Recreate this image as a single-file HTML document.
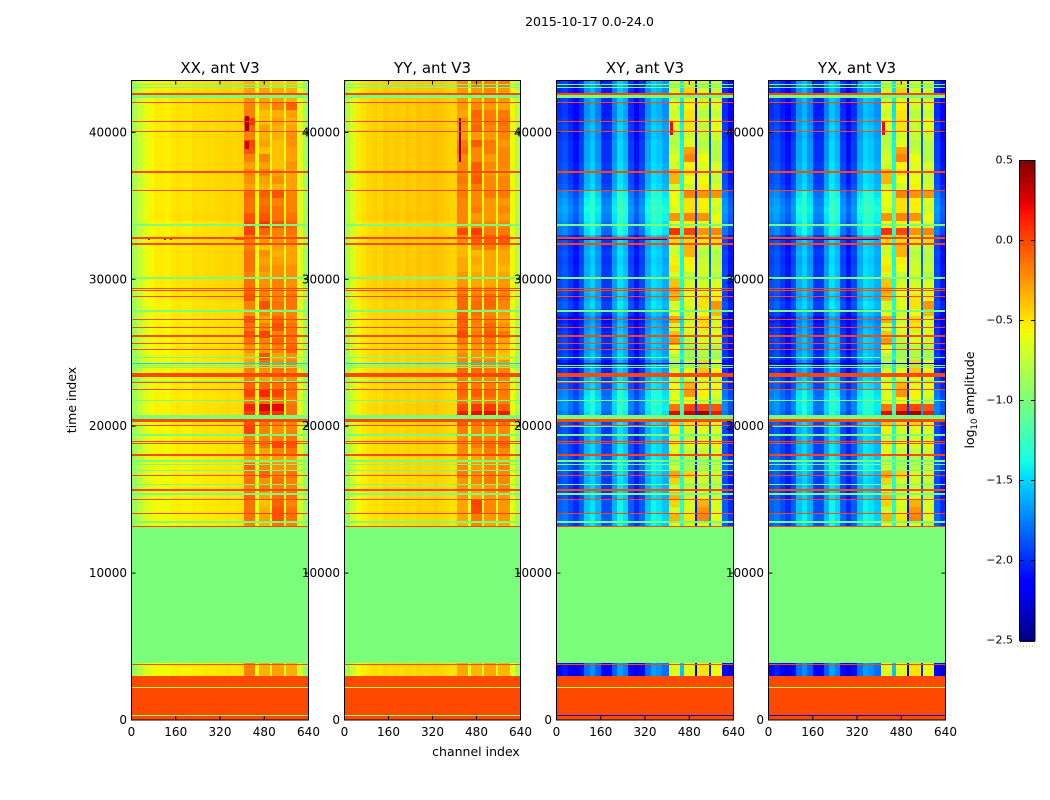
<!DOCTYPE html>
<html lang="en">
<head>
<meta charset="utf-8">
<title>2015-10-17 0.0-24.0</title>
<style>
html,body{margin:0;padding:0;background:#fff;width:1050px;height:800px;overflow:hidden}
svg{display:block;font-family:"DejaVu Sans","Liberation Sans",sans-serif;fill:#000}
</style>
</head>
<body>
<svg id="figure" xmlns="http://www.w3.org/2000/svg" width="1050" height="800" viewBox="0 0 1050 800">
  <rect width="1050" height="800" fill="#fff"/>
  <text x="589.5" y="26" font-size="12.5" text-anchor="middle">2015-10-17 0.0-24.0</text>
  <text x="220" y="73" font-size="15" text-anchor="middle">XX, ant V3</text>
  <text x="432.5" y="73" font-size="15" text-anchor="middle">YY, ant V3</text>
  <text x="645" y="73" font-size="15" text-anchor="middle">XY, ant V3</text>
  <text x="857" y="73" font-size="15" text-anchor="middle">YX, ant V3</text>
  <text font-size="12.5" text-anchor="middle" transform="translate(76,400) rotate(-90)">time index</text>
  <text x="476" y="756" font-size="12.5" text-anchor="middle">channel index</text>
  <text font-size="12.5" text-anchor="middle" transform="translate(974,400) rotate(-90)">log<tspan font-size="8.5" dy="3">10</tspan><tspan dy="-3"> amplitude</tspan></text>
  <g id="panels"></g>
  <g id="colorbar"></g>
</svg>
<script>
// ---- value range of the colour scale (log10 amplitude) ----
const colorMin = -2.5;
const colorMax = 0.5;

// ---- axes ----
const xTicks = [0, 160, 320, 480, 640];
const yTicks = [0, 10000, 20000, 30000, 40000];
const colorTicks = [0.5, 0, -0.5, -1, -1.5, -2, -2.5];
const colorTickLabels = ["0.5", "0.0", "\u22120.5", "\u22121.0", "\u22121.5", "\u22122.0", "\u22122.5"];
const channelMax = 640;
const timeMax = 43530;

// ---- column bands (channels) ----
const leftChannelEdges = [0,20,40,60,80,100,120,140,160,180,200,220,240,260,280,300,320,340,360,380,408];
const blockChannels = [[408,448],[460,500],[508,550],[559,600]];
const gapChannels = [[448,460],[500,508],[550,559]];
const rightChannels = [[600,620],[620,640]];

// ---- row bands: lower time edge of each row ----
const rowStarts = [43000,42500,42000,41500,41000,40500,40000,39500,39000,38500,38000,37500,37000,36500,36000,35500,35000,34500,34000,33500,33000,32500,32000,31500,31000,30500,30000,29500,29000,28500,28000,27500,27000,26500,26000,25500,25000,24500,24000,23500,23000,22500,22000,21500,21000,20500,20000,19500,19000,18500,18000,17500,17000,16500,16000,15500,15000,14500,14000,13500,13000,3000];

// ---- channel profiles (log10 amplitude) ----
const xxProfile = [-.85,-.72,-.62,-.56,-.52,-.52,-.54,-.5,-.48,-.5,-.5,-.47,-.48,-.46,-.47,-.46,-.45,-.44,-.46,-.44];
const yyProfile = [-.82,-.66,-.52,-.48,-.45,-.43,-.45,-.41,-.43,-.41,-.43,-.4,-.42,-.39,-.41,-.4,-.38,-.4,-.42,-.44];
const xyProfile = [-1.85,-1.8,-1.9,-2,-1.85,-1.55,-1.45,-1.6,-1.9,-1.9,-1.6,-1.4,-1.5,-1.85,-2,-1.85,-1.55,-1.4,-1.45,-1.55];
const yxProfile = [-1.85,-1.8,-1.9,-2,-1.85,-1.55,-1.45,-1.6,-1.9,-1.9,-1.6,-1.4,-1.5,-1.85,-2,-1.85,-1.55,-1.4,-1.45,-1.55];
const xxGaps = [-.56,-.56,-.58];
const yyGaps = [-.58,-.58,-.62];
const xyGaps = [-1.3,-2.1,-1.75];
const yxGaps = [-1.3,-2.1,-1.75];
const xxRight = [-.64,-.85];
const yyRight = [-.56,-.8];
const xyRight = [-1.85,-2];
const yxRight = [-1.85,-2];

// ---- constant level adjustment of the RFI blocks in each panel ----
const xxBlockLevel = -.08;
const yyBlockLevel = -.1;
const xyBlockLevel = .06;

// ---- per-row gain applied to the quiet channels ----
const parallelGain = [0,0,0,0,0,0,0,0,0,0,0,0,0,0,0,0,0,0,.01,-.03,-.02,0,0,0,0,0,0,0,0,0,-.02,-.02,-.03,-.03,-.03,-.03,-.03,-.03,-.04,-.04,-.04,-.03,-.03,-.03,-.02,-.02,-.03,-.03,-.04,-.04,-.04,-.05,-.05,-.05,-.05,-.05,-.05,-.05,-.05,-.05,-.05,-.05];
const crossGain = [-.12,-.15,-.12,-.15,-.15,-.12,-.09,-.12,-.09,-.09,-.09,-.06,-.06,-.06,-.03,.1,.15,.18,.15,.1,.08,-.06,-.09,-.06,-.09,-.06,-.06,-.06,-.06,-.09,-.03,-.12,-.2,-.15,-.12,-.09,-.12,-.09,-.2,-.12,-.06,-.03,.08,.12,.12,.08,-.03,-.06,-.06,-.03,-.03,0,.04,-.03,-.06,-.06,-.06,0,0,.04,0,-.25];

// ---- RFI block values, one row of four blocks per time row ----
const xxBlocks = [
[-.25,-.3,-.35,-.3],[-.2,-.2,-.25,-.25],[-.15,-.2,-.2,-.25],[-.1,-.2,-.1,0],[-.1,-.3,-.25,-.2],[.15,-.3,-.2,-.25],[0,-.2,-.25,-.2],[-.1,-.25,-.25,-.15],[.1,-.2,-.3,-.15],[.05,-.3,-.3,-.2],
[-.1,-.1,-.3,-.2],[-.2,-.2,-.3,-.15],[-.1,-.1,-.2,-.2],[-.15,-.2,-.15,-.2],[-.2,-.25,-.25,-.2],[0,.02,.05,-.1],[-.05,-.05,-.1,-.1],[-.05,0,-.05,-.1],[.05,.05,-.05,-.05],[.1,.15,.05,0],
[.1,0,-.1,-.05],[-.05,-.15,-.15,-.1],[-.1,-.3,-.2,-.2],[-.05,-.15,-.25,-.2],[-.05,-.2,-.2,-.2],[-.05,-.15,-.15,-.15],[-.1,-.2,-.15,-.15],[-.05,-.15,-.1,-.15],[0,-.1,-.1,-.1],[.05,-.1,-.1,-.05],
[-.1,.05,-.05,-.05],[-.15,-.1,-.1,-.1],[.05,-.2,0,-.1],[-.05,-.1,.05,-.05],[.05,.1,-.1,-.05],[-.05,-.1,0,-.05],[-.15,-.15,-.1,0],[-.25,.05,-.2,-.15],[-.2,-.05,-.15,-.1],[-.1,-.15,-.05,-.1],
[-.1,-.2,-.15,-.15],[0,0,-.05,-.05],[.1,.2,.1,-.05],[-.05,-.05,-.05,-.1],[.2,.35,.3,-.05],[.1,.2,.15,-.05],[.05,-.05,-.1,-.1],[.1,-.1,-.15,-.1],[-.1,-.1,-.1,-.05],[-.05,-.05,.1,.05],
[-.1,-.2,-.1,-.05],[-.2,-.25,-.2,-.2],[0,-.1,-.15,-.15],[-.05,0,-.1,-.05],[-.05,-.15,-.05,-.1],[-.1,-.1,-.1,-.1],[0,-.2,-.05,-.05],[-.05,-.3,0,-.1],[-.05,-.25,.05,-.05],[-.05,-.2,.05,-.05],[-.1,-.25,-.05,-.1],
[-.1,-.25,-.2,-.25]];
const yyBlocks = [
[-.1,-.05,-.05,-.05],[-.15,-.15,-.1,-.15],[-.15,-.15,-.1,-.15],[-.15,-.1,-.15,-.2],[-.2,.02,-.05,-.05],[-.1,-.02,-.05,-.02],[-.15,.02,-.1,-.05],[-.15,-.15,-.15,-.1],[-.05,.05,-.05,-.15],[0,-.1,-.05,-.1],
[-.1,-.1,-.15,-.1],[-.1,.05,-.1,-.1],[-.1,.02,-.15,-.15],[-.05,.05,-.1,-.1],[-.1,-.05,-.1,-.1],[-.05,-.1,-.05,-.05],[-.1,-.1,-.15,-.15],[-.1,-.05,-.15,-.1],[-.1,-.15,-.15,-.15],[-.1,-.1,-.1,-.1],
[.1,.15,-.05,-.05],[-.1,.05,.05,.05],[-.25,-.1,-.05,-.15],[-.25,-.25,-.2,-.2],[-.2,-.2,-.2,-.2],[-.2,-.25,-.2,-.25],[-.15,-.2,-.2,-.2],[-.15,-.2,-.2,-.15],[-.05,-.1,-.1,-.1],[0,-.05,0,-.05],
[0,0,.02,-.1],[.02,-.02,-.1,-.15],[.05,-.05,-.05,-.2],[.02,-.1,0,-.15],[.1,-.05,.05,-.05],[-.05,-.1,-.05,-.2],[-.15,-.15,-.1,-.25],[-.1,-.15,-.15,-.3],[-.1,-.05,-.1,-.15],[0,0,-.05,-.1],
[-.1,-.1,-.1,-.1],[0,-.05,-.05,-.1],[.02,.05,.02,-.05],[-.05,-.05,-.05,-.1],[.1,.15,.15,.05],[.25,.3,.3,.25],[.05,0,0,0],[-.05,-.1,-.1,-.1],[-.1,-.05,-.1,-.05],[-.1,-.05,0,0],
[-.1,-.15,-.05,-.1],[-.2,-.2,-.15,-.2],[-.1,-.15,-.1,-.1],[-.05,-.1,-.05,-.1],[-.15,-.1,-.05,-.1],[-.15,-.2,-.15,-.1],[-.15,-.2,-.15,-.15],[-.2,.12,-.1,-.15],[-.2,.1,-.1,-.15],[-.2,-.05,-.15,-.15],[-.25,-.1,-.2,-.2],
[-.2,-.25,-.2,-.25]];
const xyBlocks = [
[-.8,-.55,-.8,-.8],[-.75,-.5,-.75,-.8],[-.8,-.7,-.75,-.75],[-.7,-.6,-.75,-.7],[-.75,-.55,-.85,-.8],[-.6,-.55,-.75,-.65],[-.7,-.55,-.8,-.65],[-.85,-.75,-.8,-.75],[-.85,-.7,-.85,-.85],[-.8,-.35,-.8,-.85],
[-.7,-.25,-.65,-.85],[-.75,-.6,-.7,-.7],[-.4,-.55,-.7,-.8],[-.4,-.65,-.65,-.8],[-.75,-.75,-.6,-.7],[-.65,-.25,-.3,-.3],[-.65,-.55,-.6,-.7],[-.7,-.55,-.6,-.75],[-.3,-.25,-.3,-.65],[-.65,-.6,-.7,-.7],
[.02,-.05,-.3,-.25],[-.5,-.5,-.55,-.5],[-.75,-.4,-.8,-.8],[-.75,-.4,-.85,-.85],[-.6,-.6,-.8,-.85],[-.55,-.65,-.75,-.8],[-.7,-.8,-.75,-.85],[-.45,-.75,-.75,-.7],[-.35,-.7,-.7,-.7],[-.4,-.7,-.55,-.6],
[-.75,-.7,-.55,-.3],[-.65,-.75,-.65,-.4],[-.35,-.8,-.5,-.75],[-.75,-.7,-.55,-.75],[-.45,-.75,-.75,-.7],[-.3,-.85,-.7,-.75],[-.65,-.95,-.85,-.9],[-.8,-.9,-.85,-.9],[-.85,-.8,-.5,-.65],[-.75,-.7,-.45,-.6],
[-.7,-.75,-.6,-.7],[-.65,-.4,-.7,-.65],[-.7,-.3,-.6,-.7],[-.65,-.6,-.7,-.8],[-.2,-.05,-.05,-.1],[.15,.25,.35,.1],[-.45,-.55,-.5,-.6],[-.6,-.75,-.7,-.7],[-.8,-.85,-.75,-.75],[-.6,-.7,-.7,-.6],
[-.7,-.8,-.8,-.75],[-.85,-.9,-.9,-.8],[-.75,-.9,-.85,-.8],[-.35,-.5,-.75,-.75],[-.5,-.75,-.75,-.8],[-.75,-.85,-.8,-.85],[-.4,-.8,-.7,-.8],[-.5,-.7,-.4,-.7],[-.75,-.75,-.3,-.7],[-.4,-.55,-.25,-.65],[-.6,-.7,-.7,-.8],
[-.7,-.7,-.55,-.65]];

// ---- flagged time ranges, drawn across the whole band: [centre, width, value] ----
const redFlagRows = [[42610,140,0],[42020,80,0],[40720,80,0],[40040,80,0],[37300,150,0],[36030,80,0],[32810,80,0],[32400,150,0],[29370,80,0],[29220,80,0],[28800,80,0],[27260,80,0],[26720,80,0],[26120,150,0],[25620,80,0],[25220,80,0],[23480,300,0],[22950,80,0],[22500,80,0],[20360,190,0],[20020,80,0],[18950,80,0],[18810,80,0],[18050,80,0],[17980,80,0],[16640,80,0],[15650,150,0],[15010,80,0],[14060,80,0],[13170,80,0],[3770,80,0]];
const greenFlagRows = [[43270,80,-1],[43080,80,-1],[42440,210,-1],[33700,150,-1],[30070,150,-1],[27830,150,-1],[24650,80,-1],[24120,80,-1],[23980,80,-1],[23040,80,-1],[21750,80,-1],[20630,230,-1],[19410,150,-1],[17640,150,-1],[17390,80,-1],[16980,80,-1],[16010,80,-1],[15380,150,-1],[13470,150,-1]];
const blockFlagRows = [[8500,9300,-1],[1500,3000,0]];
const lowLineRows = [[2220,70,-.85]];
const parallelThinRows = [[320,70,-1],[24280,70,-1.5]];
const crossThinRows = [[320,70,-2.3],[24280,70,-2.3]];

// ---- isolated features: [channelStart, channelEnd, timeStart, timeEnd, value] ----
const xxSpots = [[412,424,40100,41100,.42],[412,424,38900,39400,.3],[60,66,32700,32760,.4],[116,126,32700,32760,.4],[140,146,32700,32760,.3],[370,405,32700,32760,-.05],[116,120,3880,3950,-.05]];
const yySpots = [[418,424,38000,41000,.5],[200,240,40700,40760,-.1],[120,150,20000,20060,.1]];
const xySpots = [[412,420,39800,40800,.2],[0,400,19960,20040,-1.1],[0,400,32700,32770,-2.2]];
const yxSpots = [[412,420,39800,40800,.2],[0,400,19960,20040,-1.1],[0,400,32700,32770,-2.2]];

// ---- panels ----
const panels = [
  {key:"xx", left:131.5, right:308.5, profile:xxProfile, gaps:xxGaps, edge:xxRight, gain:parallelGain, blocks:xxBlocks, blockLevel:xxBlockLevel, thin:parallelThinRows, spots:xxSpots},
  {key:"yy", left:344.5, right:520.5, profile:yyProfile, gaps:yyGaps, edge:yyRight, gain:parallelGain, blocks:yyBlocks, blockLevel:yyBlockLevel, thin:parallelThinRows, spots:yySpots},
  {key:"xy", left:556.5, right:733.5, profile:xyProfile, gaps:xyGaps, edge:xyRight, gain:crossGain, blocks:xyBlocks, blockLevel:xyBlockLevel, thin:crossThinRows, spots:xySpots},
  {key:"yx", left:768.5, right:945.5, profile:yxProfile, gaps:yxGaps, edge:yxRight, gain:crossGain, blocks:xyBlocks, blockLevel:xyBlockLevel, thin:crossThinRows, spots:yxSpots}
];

const NS = "http://www.w3.org/2000/svg";
const axisTop = 80.5;
const axisBottom = 720;

function yScale(t){ return axisBottom - (axisBottom - axisTop) * t / timeMax; }
function xScale(p, ch){ return p.left + (p.right - p.left) * ch / channelMax; }

function interp(stops, t){
  for (let i = 1; i < stops.length; i++){
    if (t <= stops[i][0]){
      const a = stops[i-1], b = stops[i];
      return a[1] + (b[1]-a[1]) * (t-a[0]) / (b[0]-a[0]);
    }
  }
  return stops[stops.length-1][1];
}
const jetR = [[0,0],[.35,0],[.66,1],[.89,1],[1,.5]];
const jetG = [[0,0],[.125,0],[.375,1],[.64,1],[.91,0],[1,0]];
const jetB = [[0,.5],[.11,1],[.34,1],[.65,0],[1,0]];
function colorOf(v){
  const t = Math.max(0, Math.min(1, (v - colorMin) / (colorMax - colorMin)));
  return "rgb(" + Math.round(255*interp(jetR,t)) + "," + Math.round(255*interp(jetG,t)) + "," + Math.round(255*interp(jetB,t)) + ")";
}

function makeRect(parent, x0, x1, y0, y1, fill){
  const r = document.createElementNS(NS, "rect");
  const xa = Math.round(x0), xb = Math.round(x1), ya = Math.round(y0);
  r.setAttribute("x", xa);
  r.setAttribute("y", ya);
  r.setAttribute("width", Math.max(1, xb - xa));
  r.setAttribute("height", Math.max(1, Math.round(y1) - ya));
  r.setAttribute("fill", fill);
  r.setAttribute("shape-rendering", "crispEdges");
  parent.appendChild(r);
  return r;
}
function makeLine(parent, x1, y1, x2, y2, width){
  const l = document.createElementNS(NS, "line");
  l.setAttribute("x1", x1);
  l.setAttribute("y1", y1);
  l.setAttribute("x2", x2);
  l.setAttribute("y2", y2);
  l.setAttribute("stroke", "#000");
  l.setAttribute("stroke-width", width);
  parent.appendChild(l);
  return l;
}
function makeText(parent, x, y, str, anchor, size){
  const t = document.createElementNS(NS, "text");
  t.setAttribute("x", x);
  t.setAttribute("y", y);
  t.setAttribute("text-anchor", anchor);
  t.setAttribute("font-size", size);
  t.textContent = str;
  parent.appendChild(t);
  return t;
}

function drawPanel(p){
  const root = document.getElementById("panels");
  const g = document.createElementNS(NS, "g");
  
  
  root.appendChild(g);

  const cells = document.createElementNS(NS, "g");
  
  
  g.appendChild(cells);

  for (let r = 0; r < rowStarts.length; r++){
    const lower = rowStarts[r];
    const upper = r === 0 ? timeMax : (r === rowStarts.length - 1 ? 3900 : rowStarts[r-1]);
    const y0 = yScale(upper), y1 = yScale(lower);
    const gain = p.gain[r];
    for (let c = 0; c < p.profile.length; c++){
      const cell = makeRect(cells, xScale(p, leftChannelEdges[c]), xScale(p, leftChannelEdges[c+1]), y0, y1, colorOf(p.profile[c] + gain));
      
      
    }
    for (let c = 0; c < blockChannels.length; c++){
      const cell = makeRect(cells, xScale(p, blockChannels[c][0]), xScale(p, blockChannels[c][1]), y0, y1, colorOf(p.blocks[r][c] + p.blockLevel));
      
      
    }
    for (let c = 0; c < gapChannels.length; c++){
      const cell = makeRect(cells, xScale(p, gapChannels[c][0]), xScale(p, gapChannels[c][1]), y0, y1, colorOf(p.gaps[c] + gain));
      
      
    }
    for (let c = 0; c < rightChannels.length; c++){
      const cell = makeRect(cells, xScale(p, rightChannels[c][0]), xScale(p, rightChannels[c][1]), y0, y1, colorOf(p.edge[c] + gain));
      
      
    }
  }

  const spots = p.spots;
  for (let s = 0; s < spots.length; s++){
    const spot = makeRect(cells, xScale(p, spots[s][0]), xScale(p, spots[s][1]), yScale(spots[s][3]), yScale(spots[s][2]), colorOf(spots[s][4]));
    
    
  }

  const flagLists = [blockFlagRows, p.thin, lowLineRows, greenFlagRows, redFlagRows];
  for (let l = 0; l < flagLists.length; l++){
    const list = flagLists[l];
    for (let i = 0; i < list.length; i++){
      const f = list[i];
      const band = makeRect(cells, p.left, p.right, yScale(f[0] + f[1]/2), yScale(f[0] - f[1]/2), colorOf(f[2]));
      
      
    }
  }

  const frame = document.createElementNS(NS, "rect");
  frame.setAttribute("x", p.left);
  frame.setAttribute("y", axisTop);
  frame.setAttribute("width", p.right - p.left);
  frame.setAttribute("height", axisBottom - axisTop);
  frame.setAttribute("fill", "none");
  frame.setAttribute("stroke", "#000");
  frame.setAttribute("stroke-width", "1");
  
  
  g.appendChild(frame);

  for (let i = 0; i < xTicks.length; i++){
    const x = xScale(p, xTicks[i]);
    const low = makeLine(g, x, axisBottom, x, axisBottom - 4, 1);
    
    
    const high = makeLine(g, x, axisTop, x, axisTop + 4, 1);
    
    
    const label = makeText(g, x, 736, String(xTicks[i]), "middle", 12);
    
    
  }
  for (let i = 0; i < yTicks.length; i++){
    const y = yScale(yTicks[i]);
    const low = makeLine(g, p.left, y, p.left + 4, y, 1);
    
    
    const high = makeLine(g, p.right, y, p.right - 4, y, 1);
    
    
    const label = makeText(g, p.left - 4.5, y + 4, String(yTicks[i]), "end", 12);
    
    
  }
}

function drawColorbar(){
  const g = document.getElementById("colorbar");
  const left = 1019.5, right = 1035, top = 160.5, bottom = 640.5;
  const cbY = function(v){ return top + (colorMax - v) / (colorMax - colorMin) * (bottom - top); };
  const steps = 240;
  for (let i = 0; i < steps; i++){
    const v = colorMax - (i + .5) / steps * (colorMax - colorMin);
    const seg = makeRect(g, left, right, top + i * (bottom - top) / steps, top + (i + 1) * (bottom - top) / steps + 1, colorOf(v));
    
    
  }
  const frame = document.createElementNS(NS, "rect");
  frame.setAttribute("x", left);
  frame.setAttribute("y", top);
  frame.setAttribute("width", right - left);
  frame.setAttribute("height", bottom - top);
  frame.setAttribute("fill", "none");
  frame.setAttribute("stroke", "#000");
  frame.setAttribute("stroke-width", "1");
  
  
  g.appendChild(frame);
  for (let i = 0; i < colorTicks.length; i++){
    const y = cbY(colorTicks[i]);
    const a = makeLine(g, left, y, left + 4, y, 1);
    
    
    const b = makeLine(g, right, y, right - 4, y, 1);
    
    
    const label = makeText(g, 1013, y + 3, colorTickLabels[i], "end", 11);
    
    
  }
  const dots = makeLine(g, 1017, 646, 1035, 646, 1);
  dots.setAttribute("stroke", "#999");
  dots.setAttribute("stroke-dasharray", "1 2");
  
  
}

panels.forEach(drawPanel);
drawColorbar();
</script>
</body>
</html>
